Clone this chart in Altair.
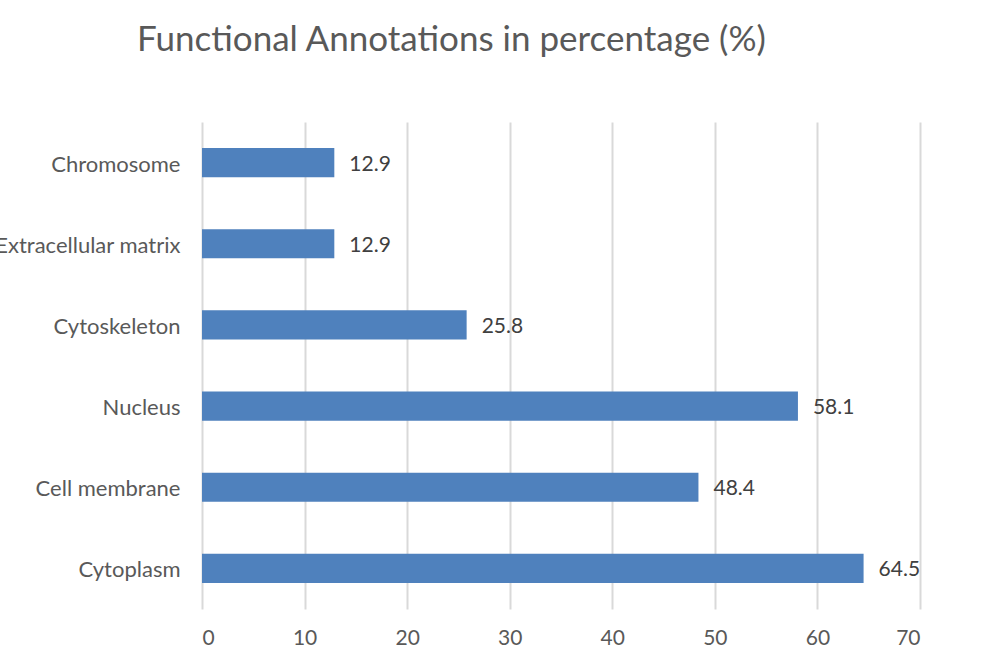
import altair as alt
import pandas as pd

categories = ["Chromosome", "Extracellular matrix", "Cytoskeleton", "Nucleus", "Cell membrane", "Cytoplasm"]
values = [12.9, 12.9, 25.8, 58.1, 48.4, 64.5]
x_ticks = [0, 10, 20, 30, 40, 50, 60, 70]

df = pd.DataFrame({"category": categories, "value": values})

FONT = "Lato"
GREY = "#595959"

y_enc = alt.Y(
    "category:N",
    sort=categories,
    title=None,
    scale=alt.Scale(paddingInner=0.64, paddingOuter=0.32),
    axis=alt.Axis(
        domain=False, ticks=False, grid=False,
        labelFont=FONT, labelFontSize=22, labelColor=GREY, labelPadding=22,
        labelLimit=400, labelBaseline="middle", labelOffset=2,
    ),
)
x_enc = alt.X(
    "value:Q",
    title=None,
    scale=alt.Scale(domain=[0, 70], nice=False),
    axis=alt.Axis(
        values=x_ticks, domain=False, ticks=False,
        grid=True, gridColor="#D9D9D9", gridWidth=2,
        labelFont=FONT, labelFontSize=21, labelColor=GREY, labelPadding=18,
    ),
)

bars = alt.Chart(df).mark_bar(color="#4F81BD").encode(x=x_enc, y=y_enc)
labels = alt.Chart(df).mark_text(
    align="left", baseline="middle", dx=15, dy=2, font=FONT, fontSize=21, color="#404040"
).encode(x="value:Q", y=alt.Y("category:N", sort=categories), text=alt.Text("value:Q", format=".1f"))

chart = (
    (bars + labels)
    .properties(
        width=718,
        height=487,
        padding={"left": 202, "top": 122, "right": 61, "bottom": 39},
        autosize=alt.AutoSizeParams(type="none"),
        title=alt.TitleParams(
            "Functional Annotations in percentage (%)",
            anchor="start", frame="group", dx=-65, offset=64,
            font=FONT, fontSize=35, fontWeight="normal", color=GREY,
        ),
    )
    .configure_view(stroke=None)
)

chart.save("out.html", embed_options={"renderer": "svg", "actions": False})
